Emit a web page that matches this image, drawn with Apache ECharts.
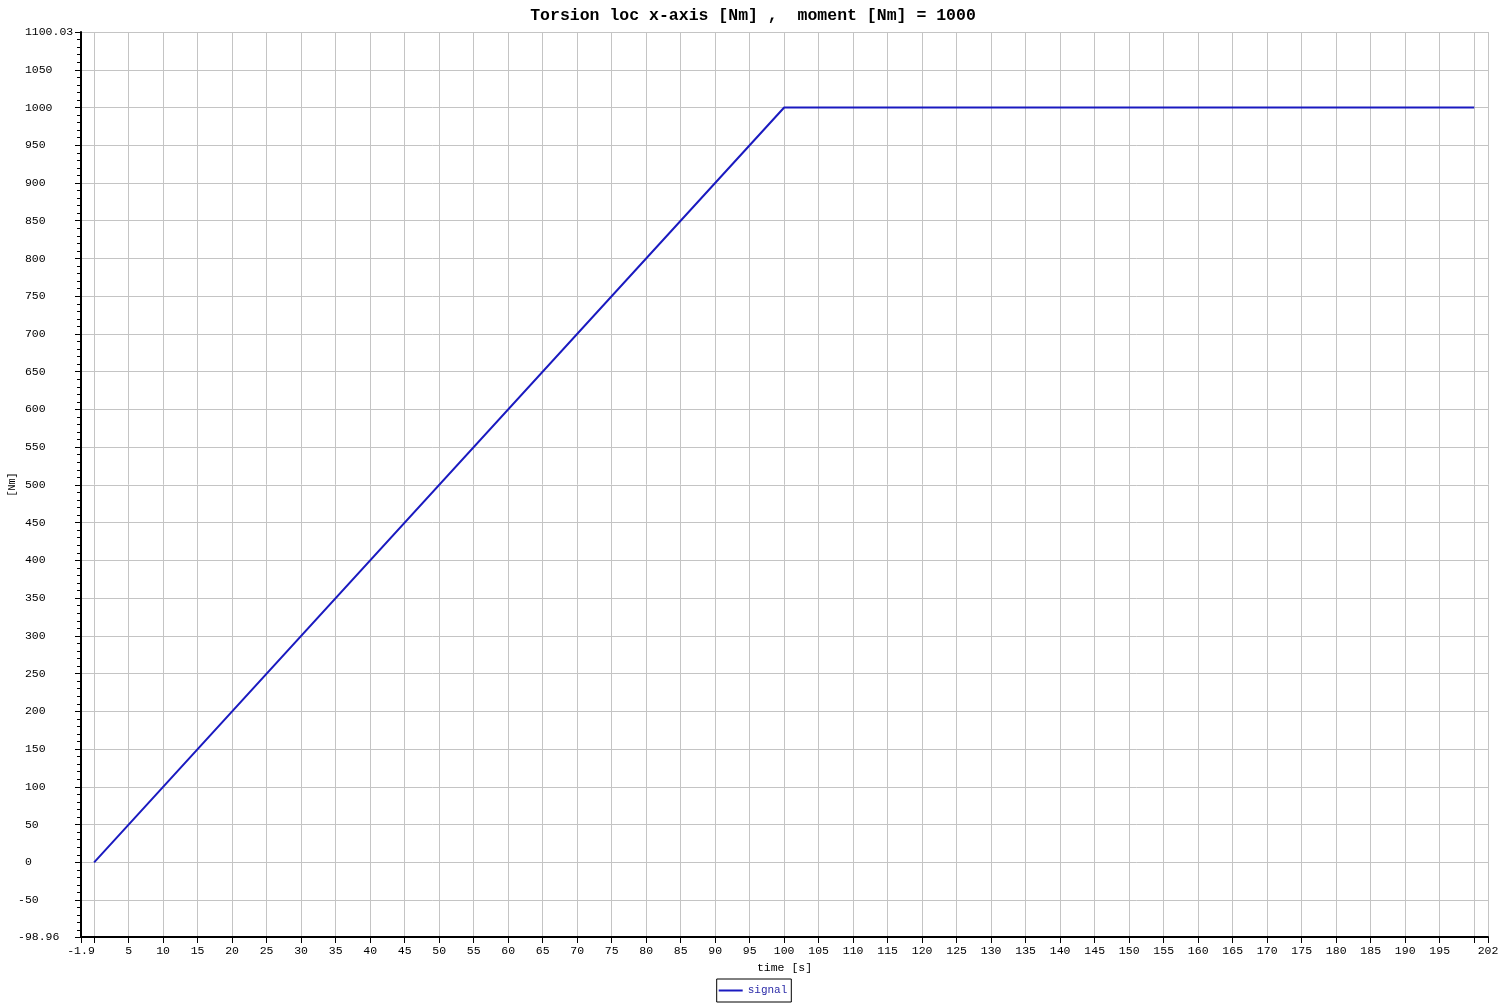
<!DOCTYPE html>
<html>
<head>
<meta charset="utf-8">
<script src="https://cdn.jsdelivr.net/npm/echarts@6/dist/echarts.min.js"></script>
<style>html,body{margin:0;padding:0;background:#fff;}#c{width:1506px;height:1006px;}</style>
</head>
<body>
<div id="c"></div>
<script>
const titleText = 'Torsion loc x-axis [Nm] ,  moment [Nm] = 1000';
const seriesName = 'signal';
const timeValues = [0, 100, 200];
const signalValues = [0, 1000, 1000];
const xMin = -1.9, xMax = 202, xStep = 5;
const yMin = -98.96, yMax = 1100.03, yStep = 50;
const hiddenXLabels = [0, 200];
const hiddenYLabels = [1100];

const FONT = '"Liberation Mono", "DejaVu Sans Mono", monospace';
const fmt = v => String(Math.round(v * 100) / 100);
const chart = echarts.init(document.getElementById('c'));
chart.setOption({
  animation: false,
  backgroundColor: '#fff',
  title: {
    text: titleText, left: 'center', top: 2,
    textStyle: {fontFamily: FONT, fontSize: 16.5, fontWeight: 'bold', color: '#000'}
  },
  legend: {
    bottom: 4, left: 'center',
    data: [seriesName],
    borderColor: '#000', borderWidth: 1, padding: [6, 4, 6, 2],
    itemWidth: 24, itemHeight: 2, itemGap: 4,
    icon: 'rect',
    textStyle: {fontFamily: FONT, fontSize: 11, color: '#2b2ba8'}
  },
  grid: {left: 81, right: 18, top: 32, bottom: 69, containLabel: false, outerBoundsMode: 'none'},
  xAxis: {
    type: 'value', min: xMin, max: xMax, minInterval: xStep, maxInterval: xStep,
    name: 'time [s]', nameLocation: 'middle', nameGap: 25, nameMoveOverlap: false,
    nameTextStyle: {fontFamily: FONT, fontSize: 11.5, color: '#000'},
    axisLine: {show: true, onZero: false, lineStyle: {color: '#000', width: 2}},
    axisTick: {show: true, length: 6, lineStyle: {color: '#000', width: 1}},
    axisLabel: {
      showMinLabel: true, showMaxLabel: true, margin: 8,
      fontFamily: FONT, fontSize: 11.5, color: '#000',
      formatter: v => hiddenXLabels.some(h => Math.abs(h - v) < 1e-9) ? '' : fmt(v)
    },
    splitLine: {show: true, lineStyle: {color: '#c4c4c4', width: 1}}
  },
  yAxis: {
    type: 'value', min: yMin, max: yMax, minInterval: yStep, maxInterval: yStep,
    name: '[Nm]', nameLocation: 'middle', nameGap: 64, nameRotate: 90, nameMoveOverlap: false,
    nameTextStyle: {fontFamily: FONT, fontSize: 10, color: '#000'},
    axisLine: {show: true, onZero: false, lineStyle: {color: '#000', width: 2}},
    axisTick: {show: true, length: 6, lineStyle: {color: '#000', width: 1}},
    minorTick: {show: true, splitNumber: 5, length: 4, lineStyle: {color: '#000', width: 1}},
    axisLabel: {
      showMinLabel: true, showMaxLabel: true, margin: 63, align: 'left',
      fontFamily: FONT, fontSize: 11.5, color: '#000',
      formatter: v => hiddenYLabels.some(h => Math.abs(h - v) < 1e-9) ? '' : (v < 0 ? fmt(v) : '\u00a0' + fmt(v))
    },
    splitLine: {show: true, lineStyle: {color: '#c4c4c4', width: 1}}
  },
  series: [{
    name: seriesName, type: 'line',
    data: timeValues.map((t, i) => [t, signalValues[i]]),
    showSymbol: false, symbol: 'none',
    lineStyle: {color: '#1a1ac0', width: 2},
    itemStyle: {color: '#1a1ac0'}
  }]
});
</script>
</body>
</html>
